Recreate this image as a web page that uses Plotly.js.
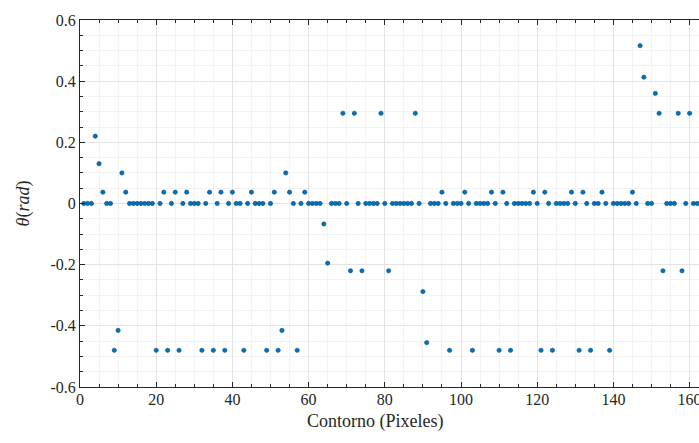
<!DOCTYPE html>
<html>
<head>
<meta charset="utf-8">
<script src="https://cdn.plot.ly/plotly-3.0.1.min.js"></script>
<style>html,body{margin:0;padding:0;background:#fff;overflow:hidden;}#wrap{width:699px;height:443px;overflow:hidden;}#chart{width:730px;height:443px;}</style>
</head>
<body>
<div id="wrap"><div id="chart"></div></div>
<script>
// Contour pixel index
const contorno = [
  1,2,3,4,5,6,7,8,9,10,11,12,13,14,15,16,17,18,19,20,
  21,22,23,24,25,26,27,28,29,30,31,32,33,34,35,36,37,38,39,40,
  41,42,43,44,45,46,47,48,49,50,51,52,53,54,55,56,57,58,59,60,
  61,62,63,64,65,66,67,68,69,70,71,72,73,74,75,76,77,78,79,80,
  81,82,83,84,85,86,87,88,89,90,91,92,93,94,95,96,97,98,99,100,
  101,102,103,104,105,106,107,108,109,110,111,112,113,114,115,116,117,118,119,120,
  121,122,123,124,125,126,127,128,129,130,131,132,133,134,135,136,137,138,139,140,
  141,142,143,144,145,146,147,148,149,150,151,152,153,154,155,156,157,158,159,160,
  161,162
];
// Angle theta (rad)
const theta = [
  0,0,0,0.22,0.13,0.037,0,0,-0.48,-0.415,0.1,0.037,0,0,0,0,0,0,0,-0.48,
  0,0.037,-0.48,0,0.037,-0.48,0,0.037,0,0,0,-0.48,0,0.037,-0.48,0,0.037,-0.48,0,0.037,
  0,0,-0.48,0,0.037,0,0,0,-0.48,0,0.037,-0.48,-0.415,0.1,0.037,0,-0.48,0,0.037,0,
  0,0,0,-0.067,-0.195,0,0,0,0.295,0,-0.22,0.295,0,-0.22,0,0,0,0,0.295,0,
  -0.22,0,0,0,0,0,0,0.295,0,-0.288,-0.455,0,0,0,0.037,0,-0.48,0,0,0,
  0.037,0,-0.48,0,0,0,0,0.037,0,-0.48,0.037,0,-0.48,0,0,0,0,0,0.037,0,
  -0.48,0.037,0,-0.48,0,0,0,0,0.037,0,-0.48,0.037,0,-0.48,0,0,0.037,0,-0.48,0,
  0,0,0,0,0.037,0,0.516,0.413,0,0,0.36,0.295,-0.22,0,0,0,0.295,-0.22,0,0.295,
  0,0
];
const yTickVals = [-0.6,-0.4,-0.2,0,0.2,0.4,0.6];
const yTickText = ['-0.6','-0.4','-0.2','0','0.2','0.4','0.6'];
const xTickVals = [0,20,40,60,80,100,120,140,160];
const xTickText = ['0','20','40','60','80','100','120','140','160'];

const serif = 'Liberation Serif, Times New Roman, serif';
const axisCommon = {
  showline: true, linecolor: '#262626', linewidth: 1, mirror: 'ticks',
  ticks: 'inside', ticklen: 5, tickcolor: '#262626',
  showgrid: true, gridcolor: '#e3e3e3', gridwidth: 1,
  zeroline: false,
  tickfont: {family: serif, size: 16, color: '#262626'},
  tickmode: 'array'
};

const trace = {
  x: contorno, y: theta, type: 'scatter', mode: 'markers',
  marker: {color: '#0072BD', size: 4.3, line: {color: '#0b4f80', width: 0.6}},
  cliponaxis: true, hoverinfo: 'x+y'
};

const layout = {
  width: 730, height: 443,
  margin: {l: 80, r: 0, t: 20, b: 56, pad: 0},
  paper_bgcolor: '#ffffff', plot_bgcolor: '#ffffff',
  showlegend: false,
  xaxis: Object.assign({}, axisCommon, {
    range: [0, 170.6], tickvals: xTickVals, ticktext: xTickText,
    ticklabelstandoff: -2,
    minor: {dtick: 5, tick0: 0, ticks: 'inside', ticklen: 3, tickcolor: '#262626', showgrid: true, gridcolor: '#f3f3f3', gridwidth: 1}
  }),
  yaxis: Object.assign({}, axisCommon, {
    range: [-0.6, 0.6], tickvals: yTickVals, ticktext: yTickText,
    minor: {dtick: 0.05, tick0: 0, ticks: 'inside', ticklen: 3, tickcolor: '#262626', showgrid: true, gridcolor: '#f3f3f3', gridwidth: 1},
    title: {text: '<i>θ</i>(<i>rad</i>)', font: {family: serif, size: 18, color: '#262626'}, standoff: 16}
  }),
  annotations: [{
    text: 'Contorno (Pixeles)', xref: 'paper', yref: 'paper',
    x: 0.454, y: 0, yshift: -22, xanchor: 'center', yanchor: 'top', showarrow: false,
    font: {family: serif, size: 18, color: '#262626'}
  }]
};

Plotly.newPlot('chart', [trace], layout, {displayModeBar: false, staticPlot: true});
</script>
</body>
</html>
